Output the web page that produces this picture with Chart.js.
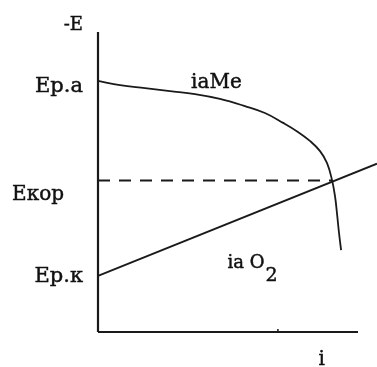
<!DOCTYPE html>
<html>
<head>
<meta charset="utf-8">
<script src="https://cdn.jsdelivr.net/npm/chart.js@4.4.1/dist/chart.umd.min.js"></script>
<style>
  html, body { margin: 0; padding: 0; background: #fff; }
  #wrap { width: 377px; height: 367px; position: relative; }
</style>
</head>
<body>
<div id="wrap"><canvas id="c"></canvas></div>
<script>
// Potential levels (-E) and current (i) in arbitrary units
const E_RA = 8.37;     // Ер.а  – equilibrium potential of the metal
const E_KOR = 5.05;    // Екор  – corrosion potential
const E_RK = 1.87;     // Ер.к  – equilibrium potential of oxygen
const I_MAX = 10;      // length of the current axis
const E_MAX = 10;      // length of the potential axis
const I_TICK = 6.92;   // single mark on the current axis

// Anodic polarisation curve of the metal (iaMe)
const metalI = [0, 0.85, 1.81, 2.77, 3.73, 4.69, 5.65, 6.42, 7.12, 7.69, 8.15, 8.54, 8.81, 9.0, 9.12, 9.19, 9.27, 9.35];
const metalE = [8.37, 8.23, 8.13, 8.03, 7.93, 7.77, 7.53, 7.3, 6.97, 6.67, 6.37, 6.03, 5.63, 5.07, 4.5, 3.97, 3.3, 2.73];

// Cathodic polarisation line of oxygen (ia O2)
const oxyI = [0, 10.73];
const oxyE = [1.87, 5.61];

// Corrosion current where the two curves meet
const I_KOR = 9.0;

const pts = (xs, ys) => xs.map((x, k) => ({ x, y: ys[k] }));

const ink = '#1a1a1a';
const serif = '"DejaVu Serif", "Liberation Serif", serif';

// Text annotations anchored to data values; dx/dy are pixel nudges
const labels = [
  { text: '-E',   x: 0,    y: E_MAX, dx: -15, dy: -2,  size: 18, align: 'right' },
  { text: 'Ер.а', x: 0,    y: E_RA,  dx: -15, dy: 11,  size: 21, align: 'right' },
  { text: 'Екор', x: 0,    y: E_KOR, dx: -34, dy: 19,  size: 20, align: 'right' },
  { text: 'Ер.к', x: 0,    y: E_RK,  dx: -15, dy: 6,   size: 21, align: 'right' },
  { text: 'iaMe', x: 3.58, y: 7.97,  dx: 0,   dy: -5,  size: 20, align: 'left' },
  { text: 'i',    x: 8.6,  y: 0,     dx: 0,   dy: 33,  size: 20, align: 'center' }
];

function drawText(ctx, text, px, py) {
  ctx.fillText(text, px, py);
  ctx.strokeText(text, px, py);
}

const textPlugin = {
  id: 'textLabels',
  afterDatasetsDraw(chart) {
    const { ctx, scales: { x, y } } = chart;
    ctx.save();
    ctx.fillStyle = '#111';
    ctx.strokeStyle = '#111';
    ctx.lineWidth = 0.45;
    ctx.textBaseline = 'alphabetic';
    labels.forEach(l => {
      ctx.font = l.size + 'px ' + serif;
      ctx.textAlign = l.align;
      drawText(ctx, l.text, x.getPixelForValue(l.x) + l.dx, y.getPixelForValue(l.y) + l.dy);
    });
    // "ia O2" with a lowered 2
    const bx = x.getPixelForValue(4.98), by = y.getPixelForValue(2.13);
    ctx.textAlign = 'left';
    ctx.font = '18px ' + serif;
    drawText(ctx, 'ia O', bx, by);
    const w = ctx.measureText('ia O').width;
    ctx.font = '19px ' + serif;
    drawText(ctx, '2', bx + w + 1, by + 13);
    ctx.restore();
  }
};

const line = (data, extra) => Object.assign({
  data, showLine: true, borderColor: ink, borderWidth: 1.8,
  pointRadius: 0, pointHoverRadius: 0, fill: false, tension: 0
}, extra);

new Chart(document.getElementById('c'), {
  type: 'scatter',
  data: {
    datasets: [
      line([{ x: 0, y: 0 }, { x: 0, y: E_MAX }], { borderWidth: 2.2 }),
      line([{ x: 0, y: 0 }, { x: I_MAX, y: 0 }], { borderWidth: 2.2 }),
      line([{ x: I_TICK, y: 0 }, { x: I_TICK, y: 0.1 }], { borderWidth: 1.5 }),
      line([{ x: 0, y: E_KOR }, { x: I_KOR, y: E_KOR }], { borderDash: [12, 9], borderWidth: 2 }),
      line(pts(metalI, metalE), { tension: 0.4 }),
      line(pts(oxyI, oxyE))
    ]
  },
  options: {
    responsive: true,
    maintainAspectRatio: false,
    animation: false,
    events: [],
    layout: { padding: 0 },
    plugins: { legend: { display: false }, tooltip: { enabled: false } },
    scales: {
      x: { type: 'linear', min: -98 / 26, max: 279 / 26, display: false },
      y: { type: 'linear', min: -35 / 30, max: 332 / 30, display: false }
    }
  },
  plugins: [textPlugin]
});
</script>
</body>
</html>
